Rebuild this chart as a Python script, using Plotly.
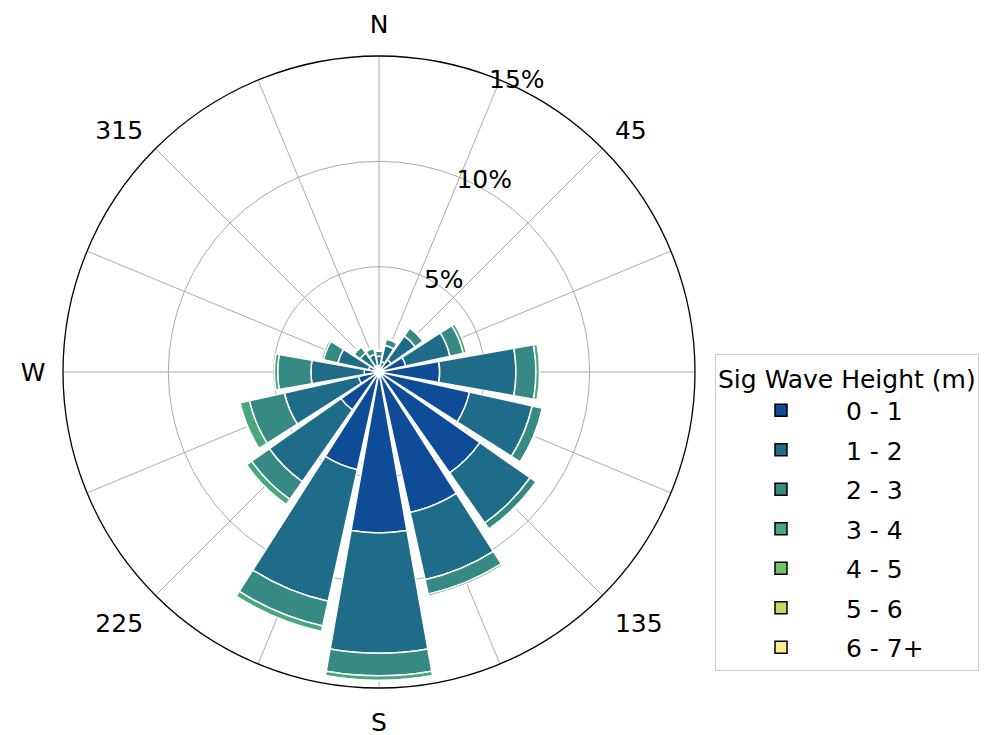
import plotly.graph_objects as go

# Directions (compass degrees, clockwise from North)
directions = [0, 22.5, 45, 67.5, 90, 112.5, 135, 157.5,
              180, 202.5, 225, 247.5, 270, 292.5, 315, 337.5]

# Frequency (%) per significant wave height bin, per direction
h_0_1 = [0.30, 0.50, 0.70, 1.30, 2.88, 4.40, 5.85, 6.83,
         7.64, 4.75, 2.20, 1.00, 0.70, 0.50, 0.30, 0.30]
h_1_2 = [0.45, 0.80, 1.40, 2.15, 3.62, 3.05, 2.90, 3.27,
         5.71, 6.40, 4.15, 3.60, 2.53, 1.50, 0.80, 0.55]
h_2_3 = [0.25, 0.30, 0.45, 0.65, 0.95, 0.50, 0.35, 0.70,
         1.07, 1.20, 1.03, 1.70, 1.58, 0.70, 0.35, 0.30]
h_3_4 = [0.05, 0.05, 0.05, 0.15, 0.17, 0.05, 0.05, 0.10,
         0.22, 0.27, 0.30, 0.45, 0.16, 0.10, 0.05, 0.05]
h_4_5 = [0, 0, 0, 0, 0, 0, 0, 0, 0.02, 0, 0, 0, 0, 0, 0, 0]
h_5_6 = [0, 0, 0, 0, 0, 0, 0, 0, 0, 0, 0, 0, 0, 0, 0, 0]
h_6_7 = [0, 0, 0, 0, 0, 0, 0, 0, 0, 0, 0, 0, 0, 0, 0, 0]

bin_labels = ["0 - 1", "1 - 2", "2 - 3", "3 - 4", "4 - 5", "5 - 6", "6 - 7+"]
bin_colors = ["#0e4c97", "#1f6c88", "#378984", "#48a87b",
              "#6ec46a", "#bedd5f", "#fdeb94"]
series = [h_0_1, h_1_2, h_2_3, h_3_4, h_4_5, h_5_6, h_6_7]

angle_tickvals = [i * 22.5 for i in range(16)]
angle_ticktext = ["N", "", "45", "", "", "", "135", "",
                  "S", "", "225", "", "W", "", "315", ""]
radial_tickvals = [5, 10, 15]
radial_ticktext = ["5%", "10%", "15%"]

FONT = "DejaVu Sans"

fig = go.Figure()
for vals, lab, col in zip(series, bin_labels, bin_colors):
    fig.add_trace(go.Barpolar(
        r=vals, theta=directions, width=[20] * len(directions),
        name=lab, showlegend=False,
        marker=dict(color=col, line=dict(color="white", width=1.5)),
        hoverinfo="skip",
    ))
# legend entries with black-edged swatches
for lab, col in zip(bin_labels, bin_colors):
    fig.add_trace(go.Barpolar(
        r=[None], theta=[None], name=lab, showlegend=True, legendgroup=lab,
        marker=dict(color=col, line=dict(color="black", width=1.5)),
    ))

fig.update_layout(
    width=989, height=735,
    margin=dict(l=0, r=0, t=0, b=0),
    paper_bgcolor="white",
    font=dict(family=FONT, size=25, color="black"),
    polar=dict(
        domain=dict(x=[55 / 989, 687 / 989], y=[1 - 680 / 735, 1 - 48 / 735]),
        bgcolor="white",
        barmode="stack",
        angularaxis=dict(
            direction="clockwise", rotation=90,
            tickmode="array", tickvals=angle_tickvals, ticktext=angle_ticktext,
            showgrid=True, gridcolor="#aaaaaa", gridwidth=1.3,
            showline=True, linecolor="black", linewidth=1.3,
            ticks="outside", ticklen=12, tickcolor="rgba(0,0,0,0)",
            tickfont=dict(family=FONT, size=25, color="black"),
        ),
        radialaxis=dict(
            range=[0, 15], angle=72, tickangle=72,
            tickmode="array", tickvals=radial_tickvals, ticktext=radial_ticktext,
            showgrid=True, gridcolor="#aaaaaa", gridwidth=1.3,
            showline=False, ticks="",
            tickfont=dict(family=FONT, size=25, color="black"),
        ),
    ),
    legend=dict(
        x=707 / 989, y=1 - 346 / 735, xanchor="left", yanchor="top",
        bgcolor="white", bordercolor="#cccccc", borderwidth=1,
        title=dict(text="Sig Wave Height (m)", font=dict(family=FONT, size=25)),
        font=dict(family=FONT, size=25, color="black"),
        itemwidth=120, tracegroupgap=4, traceorder="grouped",
    ),
)

fig.write_html("out.html")
